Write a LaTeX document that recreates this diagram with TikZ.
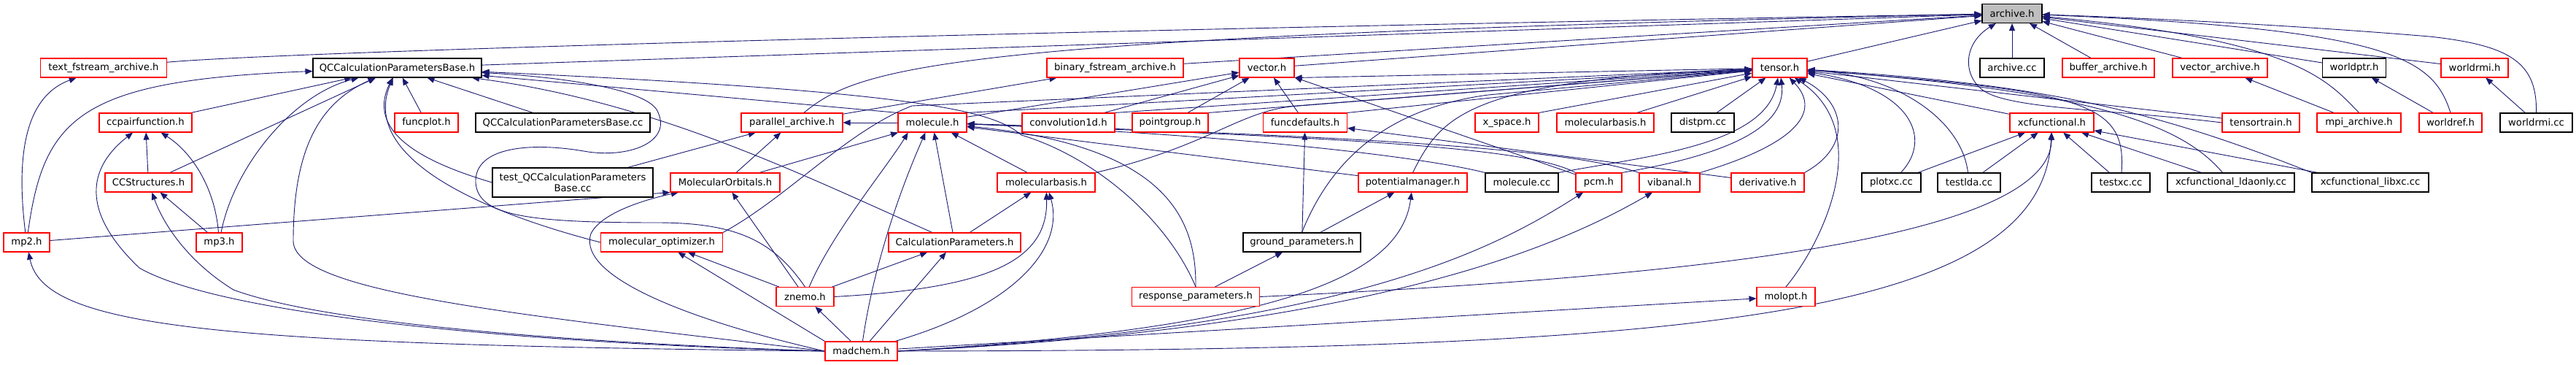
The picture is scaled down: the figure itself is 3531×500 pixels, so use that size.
\documentclass[tikz,border=0pt]{standalone}
\usepackage{fontspec}
\setmainfont{DejaVu Sans}
\usetikzlibrary{arrows.meta,calc}
\definecolor{edc}{HTML}{191970}
\definecolor{rdc}{HTML}{FF0000}
\definecolor{gyc}{HTML}{BFBFBF}
\pgfdeclarelayer{back}
\pgfdeclarelayer{edges}
\pgfsetlayers{back,edges,main}
\begin{document}
\begin{tikzpicture}[x=1pt,y=-1pt,
  nd/.style={rectangle,draw,fill=white,inner sep=0pt,minimum height=26pt,line width=1.1pt,font=\fontsize{13.2pt}{15pt}\selectfont,text=black},
  rn/.style={nd,draw=rdc},
  bn/.style={nd,draw=black},
  dep/.style={draw=edc,line width=0.9pt,-{Triangle[length=10pt,width=8pt]}}]
\useasboundingbox (0,0) rectangle (3531,500);
\begin{pgfonlayer}{back}
\fill[white] (0,0) rectangle (3531,500);
\end{pgfonlayer}

% row 0
\node[nd,fill=gyc,draw=black,minimum width=82pt] (A) at (2758,18.5) {archive.h};
% row 1
\node[rn,minimum width=173pt] (txtf) at (142,93) {text\_fstream\_archive.h};
\node[bn,minimum width=231pt] (Q) at (544.5,93) {QCCalculationParametersBase.h};
\node[rn,minimum width=187pt] (binf) at (1528.5,93) {binary\_fstream\_archive.h};
\node[rn,minimum width=75pt] (vec) at (1736.5,93) {vector.h};
\node[rn,minimum width=75pt] (T) at (2439.5,93) {tensor.h};
\node[bn,minimum width=88pt] (acc) at (2758,93) {archive.cc};
\node[rn,minimum width=126pt] (buf) at (2890,93) {buffer\_archive.h};
\node[rn,minimum width=130pt] (varch) at (3043,93) {vector\_archive.h};
\node[bn,minimum width=87pt] (wptr) at (3227,93) {worldptr.h};
\node[rn,minimum width=92pt] (wrmih) at (3392,93) {worldrmi.h};
% row 2
\node[rn,minimum width=127pt] (ccp) at (199.5,168) {ccpairfunction.h};
\node[rn,minimum width=87pt] (fplot) at (584.5,168) {funcplot.h};
\node[bn,minimum width=239pt] (qcc) at (771.5,168) {QCCalculationParametersBase.cc};
\node[rn,minimum width=139pt] (par) at (1085.5,168) {parallel\_archive.h};
\node[rn,minimum width=94pt] (mol) at (1278,168) {molecule.h};
\node[rn,minimum width=127pt] (conv) at (1464.5,168) {convolution1d.h};
\node[rn,minimum width=104pt] (pg) at (1604,168) {pointgroup.h};
\node[rn,minimum width=115pt] (fd) at (1789,168) {funcdefaults.h};
\node[rn,minimum width=87pt] (xsp) at (2065.5,168) {x\_space.h};
\node[rn,minimum width=133pt] (mb2) at (2200.5,168) {molecularbasis.h};
\node[bn,minimum width=86pt] (dpm) at (2334,168) {distpm.cc};
\node[rn,minimum width=115pt] (xcf) at (2812.5,168) {xcfunctional.h};
\node[rn,minimum width=106pt] (tt) at (3099,168) {tensortrain.h};
\node[rn,minimum width=115pt] (mpi) at (3233.5,168) {mpi\_archive.h};
\node[rn,minimum width=86pt] (wref) at (3359,168) {worldref.h};
\node[bn,minimum width=99pt] (wrmicc) at (3476.5,168) {worldrmi.cc};
% row 3
\node[rn,minimum width=119pt] (ccs) at (203.5,250) {CCStructures.h};
\node[bn,minimum width=220pt,minimum height=40pt,align=center] (tqcc) at (785,250) {test\_QCCalculationParameters\\Base.cc};
\node[rn,minimum width=150pt] (mo) at (994,250) {MolecularOrbitals.h};
\node[rn,minimum width=134pt] (mb1) at (1434,250) {molecularbasis.h};
\node[rn,minimum width=149pt] (pm) at (1936.5,250) {potentialmanager.h};
\node[bn,minimum width=100pt] (mcc) at (2086,250) {molecule.cc};
\node[rn,minimum width=63pt] (pcm) at (2191.5,250) {pcm.h};
\node[rn,minimum width=83pt] (vib) at (2288.5,250) {vibanal.h};
\node[rn,minimum width=100pt] (der) at (2423,250) {derivative.h};
\node[bn,minimum width=81pt] (pxc) at (2592.5,250) {plotxc.cc};
\node[bn,minimum width=86pt] (tlda) at (2699,250) {testlda.cc};
\node[bn,minimum width=80pt] (txc) at (2907,250) {testxc.cc};
\node[bn,minimum width=174pt] (lda) at (3058,250) {xcfunctional\_ldaonly.cc};
\node[bn,minimum width=160pt] (libxc) at (3249,250) {xcfunctional\_libxc.cc};
% row 4
\node[rn,minimum width=63pt] (mp2) at (36.5,332) {mp2.h};
\node[rn,minimum width=63pt] (mp3) at (300.5,332) {mp3.h};
\node[rn,minimum width=167pt] (mopt) at (907,332) {molecular\_optimizer.h};
\node[rn,minimum width=181pt] (cp) at (1308.5,332) {CalculationParameters.h};
\node[bn,minimum width=161pt] (gp) at (1784.5,332) {ground\_parameters.h};
% row 5
\node[rn,minimum width=79pt] (zn) at (1103.5,406.5) {znemo.h};
\node[rn,minimum width=175pt] (rp) at (1639,406.5) {response\_parameters.h};
\node[rn,minimum width=80pt] (molopt) at (2448,406.5) {molopt.h};
% row 6
\node[rn,minimum width=99pt] (mc) at (1180.5,481) {madchem.h};

\begin{pgfonlayer}{edges}
% into archive.h
\draw[dep] (txtf) .. controls (400,70) and (1500,40) .. (A);
\draw[dep] (Q) -- (A);
\draw[dep] (par) .. controls (1180,90) and (1300,50) .. (A);
\draw[dep] (binf) -- (A);
\draw[dep] (vec) -- (A);
\draw[dep] (T) -- (A);
\draw[dep] (acc) -- (A);
\draw[dep] (buf) -- (A);
\draw[dep] (varch) -- (A);
\draw[dep] (wptr) -- (A);
\draw[dep] (wrmih) -- (A);
\draw[dep] (wrmicc.north) .. controls (3478,85) and (3440,62) .. (3330,50) .. controls (3150,35) and (2950,25) .. (A);
\draw[dep] (mpi.north) .. controls (3190,110) and (3150,55) .. (A);
\draw[dep] (wref.north) .. controls (3335,80) and (3280,40) .. (A);
\draw[dep] (tt.west) .. controls (2900,150) and (2760,150) .. (2720,125) .. controls (2690,105) and (2690,60) .. (A);
% into text_fstream_archive.h
\draw[dep] (mp2) .. controls (20,200) and (40,130) .. (txtf);
% into QCCalculationParametersBase.h
\draw[dep] (mp2) .. controls (60,160) and (110,110) .. (Q);
\draw[dep] (ccp) -- (Q);
\draw[dep] (ccs) -- (Q);
\draw[dep] (mp3) .. controls (320,230) and (400,130) .. (Q);
\draw[dep] (mc.west) .. controls (700,430) and (402,400) .. (402,330) .. controls (402,200) and (440,140) .. (Q);
\draw[dep] (mopt.west) .. controls (640,285) and (495,210) .. (Q);
\draw[dep] (tqcc.west) .. controls (590,225) and (500,185) .. (Q);
\draw[dep] (fplot) -- (Q);
\draw[dep] (qcc) -- (Q);
\draw[dep] (zn.north) .. controls (1060,330) and (1010,305) .. (900,305) .. controls (720,305) and (655,295) .. (652,250) .. controls (650,200) and (730,195) .. (800,207) .. controls (860,218) and (925,195) .. (900,150) .. controls (880,120) and (760,105) .. (Q);
\draw[dep] (cp) .. controls (1100,240) and (900,140) .. (Q);
\draw[dep] (rp.north) .. controls (1600,300) and (1500,215) .. (1400,185) .. controls (1360,150) and (1250,125) .. (Q);
\draw[dep] (mol.north west) -- (Q);
% into ccpairfunction.h
\draw[dep] (ccs) -- (ccp);
\draw[dep] (mp3) .. controls (295,260) and (265,210) .. (ccp);
\draw[dep] (mc.west) .. controls (700,470) and (300,430) .. (191,367) .. controls (110,290) and (120,230) .. (ccp);
% into CCStructures.h
\draw[dep] (mp3) -- (ccs);
\draw[dep] (mc.west) .. controls (800,470) and (450,445) .. (320,397) .. controls (260,360) and (225,310) .. (ccs);
% into mp2.h
\draw[dep] (mc.west) .. controls (300,472) and (60,450) .. (mp2);
% into MolecularOrbitals.h
\draw[dep] (mp2) -- (mo.south west);
\draw[dep] (mc.west) .. controls (950,440) and (790,380) .. (810,320) .. controls (825,290) and (890,272) .. (mo);
\draw[dep] (zn) -- (mo);
% into parallel_archive.h
\draw[dep] (tqcc) -- (par);
\draw[dep] (mo) -- (par);
\draw[dep] (mol) -- (par);
% into binary_fstream_archive.h
\draw[dep] (par) -- (binf);
% into vector.h
\draw[dep] (mol) -- (vec);
\draw[dep] (conv) -- (vec);
\draw[dep] (pg) -- (vec);
\draw[dep] (fd) -- (vec);
\draw[dep] (pcm) -- (vec);
\draw[dep] (T) -- (vec.south east);
% into molecule.h
\draw[dep] (mo) -- (mol);
\draw[dep] (zn) .. controls (1140,320) and (1215,230) .. ($(mol.south west)!0.15!(mol.south east)$);
\draw[dep] (mc) .. controls (1195,380) and (1225,280) .. ($(mol.south west)!0.4!(mol.south east)$);
\draw[dep] (cp) -- (mol);
\draw[dep] (mb1) -- (mol);
\draw[dep] (mcc.north west) .. controls (1950,215) and (1700,185) .. (mol);
\draw[dep] (pm) -- (mol);
\draw[dep] (pcm.north west) .. controls (2100,205) and (1900,190) .. (mol);
\draw[dep] (vib.north west) .. controls (2150,205) and (1900,188) .. (mol);
\draw[dep] (rp.north) .. controls (1640,300) and (1600,200) .. (mol);
% into funcdefaults.h
\draw[dep] (gp) -- (fd);
\draw[dep] (der) -- (fd);
% into tensor.h
\draw[dep] (conv.north east) -- (T);
\draw[dep] (pg.north east) -- (T);
\draw[dep] (fd.north east) -- (T);
\draw[dep] (mb1.north east) .. controls (1660,200) and (1700,150) .. (1780,145) -- (T);
\draw[dep] (mb2) -- (T);
\draw[dep] (xsp.north east) -- (T);
\draw[dep] (dpm) -- (T);
\draw[dep] (pm.north) .. controls (1975,160) and (2010,110) .. (T);
\draw[dep] (gp.north) .. controls (1820,230) and (1890,150) .. (2040,130) -- (T);
\draw[dep] (mol.north east) -- (T);
\draw[dep] (mopt.north east) .. controls (1080,270) and (1160,180) .. (1250,145) -- (T);
\draw[dep] (pcm.north east) .. controls (2350,215) and (2450,180) .. (T);
\draw[dep] (mcc.north east) .. controls (2250,215) and (2420,200) .. (T);
\draw[dep] (vib.north east) .. controls (2470,195) and (2495,150) .. (T);
\draw[dep] (der.north east) .. controls (2540,200) and (2530,140) .. (T);
\draw[dep] (molopt.north) .. controls (2500,330) and (2570,180) .. (T);
\draw[dep] (pxc) .. controls (2650,190) and (2620,120) .. (T);
\draw[dep] (tlda) .. controls (2690,170) and (2610,105) .. (T);
\draw[dep] (xcf) -- (T);
\draw[dep] (txc) .. controls (2915,140) and (2860,125) .. (T);
\draw[dep] (lda) .. controls (2990,170) and (2870,125) .. (T);
\draw[dep] (tt) -- (T);
\draw[dep] (libxc.north west) .. controls (2950,150) and (2800,115) .. (T);
% into xcfunctional.h
\draw[dep] (pxc) -- (xcf);
\draw[dep] (tlda) -- (xcf);
\draw[dep] (txc) -- (xcf);
\draw[dep] (lda) -- (xcf);
\draw[dep] (libxc) -- (xcf);
\draw[dep] (rp.east) .. controls (2300,380) and (2810,330) .. (xcf);
\draw[dep] (mc.east) .. controls (2300,480) and (2800,440) .. (xcf);
% others
\draw[dep] (mpi) -- (varch);
\draw[dep] (wref) -- (wptr);
\draw[dep] (wrmicc) -- (wrmih);
\draw[dep] (gp) -- (pm);
\draw[dep] (mc.east) .. controls (1750,450) and (1920,380) .. (pm);
\draw[dep] (mc.east) .. controls (1850,450) and (2050,340) .. (pcm);
\draw[dep] (mc.east) .. controls (1900,450) and (2150,330) .. (vib);
\draw[dep] (mc) -- (molopt);
\draw[dep] (rp) -- (gp);
\draw[dep] (cp) -- (mb1);
\draw[dep] (zn.east) .. controls (1350,395) and (1437,360) .. (mb1);
\draw[dep] (mc) .. controls (1390,420) and (1460,340) .. (mb1);
\draw[dep] (zn) -- (cp);
\draw[dep] (mc) -- (cp);
\draw[dep] (zn) -- (mopt);
\draw[dep] (mc.north west) -- (mopt);
\draw[dep] (mc) -- (zn);
\end{pgfonlayer}
\end{tikzpicture}
\end{document}
